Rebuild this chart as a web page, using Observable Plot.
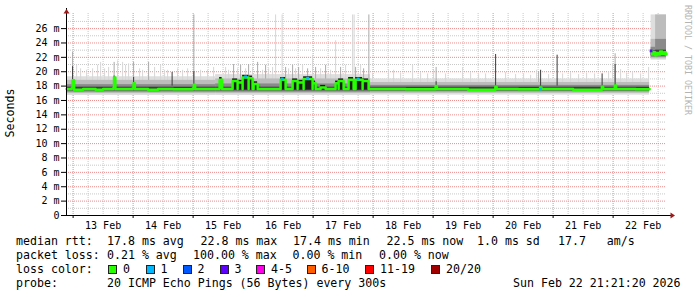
<!DOCTYPE html>
<html>
<head>
<meta charset="utf-8">
<script src="https://cdn.jsdelivr.net/npm/d3@7"></script>
<script src="https://cdn.jsdelivr.net/npm/@observablehq/plot@0.6"></script>
<style>
  body { margin: 0; background: #fff; }
  #wrap { position: relative; width: 697px; height: 297px; overflow: hidden; background: #fff;
          font-family: "DejaVu Sans Mono", monospace; color: #000; }
  #wrap svg { position: absolute; left: 0; top: 0; }
  .t { position: absolute; white-space: pre; font-size: 11.6px; line-height: 14px; }
  .sw { position: absolute; width: 7px; height: 7px; border: 1px solid #222; }
</style>
</head>
<body>
<div id="wrap"></div>
<script>
// ---------------- DATA ----------------
const endStamp = "2026-02-22T21:21:20Z";
const dayLabels = ["13 Feb","14 Feb","15 Feb","16 Feb","17 Feb","18 Feb","19 Feb","20 Feb","21 Feb","22 Feb"];
const yTickValues = [0,2,4,6,8,10,12,14,16,18,20,22,24,26];
const yTickLabels = ["0","2 m","4 m","6 m","8 m","10 m","12 m","14 m","16 m","18 m","20 m","22 m","24 m","26 m"];

// smoke band segments (hours since 13 Feb 00:00 UTC; values in ms)
const bandStart   = [-2.64, 57,    119,   231.2, 233];
const bandEnd     = [57,    119,   230.6, 233,   237.36];
const bandOuterLo = [16.7,  16.7,  16.75, 21.6,  21.6];
const bandOuterHi = [19.3,  19.6,  19.0,  27.9,  27.9];
const bandMidLo   = [16.95, 16.95, 17.0,  21.8,  21.8];
const bandMidHi   = [18.8,  19.0,  18.5,  24.5,  27.9];
const bandInnerLo = [17.15, 17.15, 17.2,  22.0,  22.0];
const bandInnerHi = [18.2,  18.3,  18.1,  23.4,  24.5];
const bandCoreLo  = [17.35, 17.35, 17.35, 22.2,  22.2];
const bandCoreHi  = [17.85, 17.85, 17.85, 22.9,  23.0];

// smoke spikes: [hour, top ms, shade 0 light / 1 medium / 2 dark]
const spikes = [
 [-0.2,22.7,1],[-0.2,20.7,2],[1.4,20.9,0],[3.0,20.4,0],[5.4,20.2,0],[7.8,20.4,0],[9.8,20.9,0],[11.0,21.3,0],
 [12.6,20.4,0],[14.2,20.6,0],[16.4,21.3,1],[16.4,19.4,2],[17.8,21.5,0],[19.8,21.3,0],[21.0,20.9,0],[22.2,21.1,0],
 [24.2,21.3,1],[24.2,19.2,2],[26.6,20.4,0],[27.8,20.2,0],[30.2,21.3,1],[32.6,20.6,0],[35.0,20.9,0],[36.6,20.2,0],
 [37.8,20.2,0],[39.6,19.9,2],[41.8,20.4,0],[43.8,20.2,0],[45.8,20.4,0],[48.3,27.9,1],[48.3,20.0,2],[51.0,20.2,0],
 [53.8,20.2,0],[56.2,20.6,0],
 [61.0,20.6,0],[62.2,20.2,0],[64.2,21.0,1],[65.8,20.4,0],[67.0,20.9,1],[69.0,20.4,0],[70.2,21.0,1],[71.8,20.6,0],
 [73.8,21.3,1],[75.8,20.2,0],[77.0,20.9,1],[78.2,20.4,0],[79.8,20.6,0],[81.0,27.9,0],[83.6,27.9,0],[85.0,20.6,1],
 [86.2,20.4,0],[87.8,20.9,1],[89.0,20.4,0],[90.2,20.6,1],[91.8,20.9,0],[93.8,20.4,1],[95.8,22.3,0],[97.0,20.6,1],
 [99.0,20.4,0],[101.0,20.9,1],[103.0,20.2,0],[105.0,24.3,0],[107.0,20.6,1],[109.0,20.9,0],[111.8,27.9,0],[112.4,27.9,0],
 [113.0,20.6,1],[115.0,20.9,0],[116.2,20.4,1],[118.3,27.9,1],[119.8,19.7,0],
 [126.2,20.2,0],[128.2,20.2,0],[131.0,19.8,0],[135.8,20.9,0],[139.0,19.9,0],[141.8,19.7,0],[144.2,20.2,0],[145.2,20.6,1],
 [145.2,18.6,2],[149.0,19.7,0],[155.8,20.6,0],[159.0,19.9,0],[162.2,19.6,0],[165.0,19.7,0],[169.0,22.4,2],[173.0,19.9,0],
 [177.0,19.6,0],[180.2,19.7,0],[183.0,19.5,0],[185.4,20.2,0],[186.2,20.0,1],[187.0,20.2,2],[190.2,19.6,0],[193.6,22.3,2],
 [195.8,19.7,0],[199.0,19.9,0],[202.2,19.6,0],[205.4,19.8,0],[208.6,19.7,0],[211.6,19.7,2],[214.2,20.0,0],[215.8,21.0,0],
 [216.8,22.5,1],[216.8,21.0,2],[219.0,20.3,0],[221.4,19.8,0],[223.8,20.0,0],[227.0,19.7,0],[230.2,20.6,0]
];

// dense (dark) smoke bursts: [start hour, end hour, top ms]
const bursts = [
 [58.6,59.6,19.2],[63.8,65.8,19.0],[65.8,67.8,18.8],[67.8,70.2,19.5],[70.2,71.8,19.4],[72.2,73.8,18.6],
 [83.0,85.0,19.2],[87.8,89.8,19.0],[89.8,92.2,18.8],[92.2,95.8,19.3],[95.8,97.0,18.7],[99.0,101.0,18.1],
 [105.0,106.2,18.7],[106.2,108.2,19.0],[110.2,112.2,19.2],[113.0,115.8,19.2],[115.8,118.2,19.0]
];

// median rtt breakpoints: [hour, ms]
const medianMain = [
 [-2.64,17.6],[-0.6,17.7],[-0.2,18.8],[0.4,17.5],[4,17.6],[9,17.5],[12,17.6],[16.0,17.7],[16.36,19.2],[16.9,17.6],
 [23.8,17.7],[24.16,18.4],[24.7,17.6],[30,17.5],[34,17.6],[40,17.55],[47.9,17.7],[48.28,18.2],[48.8,17.6],[56,17.6],
 [119,17.6],[133,17.55],[145.0,18.0],[145.5,17.6],[158,17.5],[168.9,17.9],[169.4,17.6],[178,17.55],[186.8,17.8],
 [187.3,17.6],[200,17.5],[211.5,17.9],[212,17.6],[216.7,18.1],[217.2,17.6],[225,17.55],[230.6,17.6]
];
const medianFinal = [
 [231.2,22.9],[231.6,22.4],[232.2,22.7],[232.8,22.3],[233.4,22.6],[234.0,22.4],[234.8,22.8],[235.6,22.5],
 [236.4,22.7],[237.0,22.4],[237.36,22.5]
];
// median points with packet loss: [hour, ms, loss class index]
const lossPoints = [[69.0,19.3,1],[83.6,19.0,1],[93.8,19.1,1],[114.0,19.0,1],[187.0,17.6,1],[231.2,22.9,3]];

const lossLabels = ["0","1","2","3","4-5","6-10","11-19","20/20"];
const lossColors = ["#26ff00","#00b8ff","#0059ff","#5e00ff","#ff00ea","#ff5e00","#ff0000","#a10000"];
const rttStats  = ["17.8 ms avg","22.8 ms max","17.4 ms min","22.5 ms now","1.0 ms sd","17.7   am/s"];
const lossStats = ["0.21 % avg","100.00 % max","0.00 % min","0.00 % now"];
const probeText = "20 ICMP Echo Pings (56 Bytes) every 300s";
const dateText  = "Sun Feb 22 21:21:20 2026";

// ---------------- BUILD ----------------
const HOUR = 3600e3;
const origin = Date.UTC(2026, 1, 13);
const T = h => new Date(origin + h * HOUR);
const endTime = new Date(endStamp);
const startTime = new Date(+endTime - 240 * HOUR);

const bands = bandStart.map((h1, i) => ({
  x1: T(h1), x2: T(bandEnd[i]),
  oLo: bandOuterLo[i], oHi: bandOuterHi[i], mLo: bandMidLo[i], mHi: bandMidHi[i],
  iLo: bandInnerLo[i], iHi: bandInnerHi[i], cLo: bandCoreLo[i], cHi: bandCoreHi[i]
}));
const shadeColors = ["#d6d6d6", "#a9a9a9", "#3a3a3a"];
const spikeRows = spikes.map(([h, top, s]) => ({x: T(h), top, stroke: shadeColors[s], s}));
const burstRows = bursts.map(([h1, h2, top]) => ({x1: T(h1), x2: T(h2), top}));

const mainPts = medianMain.map(([h, v]) => ({h, v, seg: "a"}));
bursts.forEach(([h1, h2, top]) => {
  mainPts.push({h: h1, v: +(top - 0.3).toFixed(2), seg: "a"});
  mainPts.push({h: h2, v: 17.6, seg: "a"});
});
const medianRows = d3.sort(mainPts, d => d.h)
  .concat(medianFinal.map(([h, v]) => ({h, v, seg: "b"})))
  .map(d => ({...d, x: T(d.h)}));
const lossRows = lossPoints.map(([h, v, c]) => ({x: T(h), v, fill: lossColors[c]}));

const midnights = d3.utcDay.range(startTime, endTime);
const noons = midnights.map(d => new Date(+d + 12 * HOUR));
const sixHours = d3.utcHour.every(6).range(startTime, endTime).filter(d => d.getUTCHours() !== 0);
const minorY = d3.range(1, 28, 2);
const majorY = yTickValues.filter(v => v > 0);

const arrowUp = {draw(ctx) { ctx.moveTo(0, -2.5); ctx.lineTo(3, 2); ctx.lineTo(-3, 2); ctx.closePath(); }};
const arrowRight = {draw(ctx) { ctx.moveTo(2.5, 0); ctx.lineTo(-2, -3); ctx.lineTo(-2, 3); ctx.closePath(); }};

const chart = Plot.plot({
  width: 697, height: 232,
  marginLeft: 66, marginRight: 31, marginTop: 13, marginBottom: 17,
  style: {fontFamily: "DejaVu Sans Mono", fontSize: "10px", background: "transparent", color: "#000", overflow: "visible"},
  x: {type: "utc", domain: [startTime, endTime], axis: null},
  y: {domain: [0, 28.1], axis: null},
  color: {type: "identity"},
  marks: [
    Plot.ruleX(sixHours, {stroke: "#c8c8c8", strokeDasharray: "1,1"}),
    Plot.ruleY(minorY, {stroke: "#c8c8c8", strokeDasharray: "1,1"}),
    Plot.ruleX(midnights, {stroke: "#ee8c8c", strokeDasharray: "1,1"}),
    Plot.ruleY(majorY, {stroke: "#ee8c8c", strokeDasharray: "1,1"}),

    Plot.rect(bands, {x1: "x1", x2: "x2", y1: "oLo", y2: "oHi", fill: "#dedede"}),
    Plot.ruleX(spikeRows.filter(d => d.s < 2), {x: "x", y1: d => 18, y2: "top", stroke: "stroke"}),
    Plot.rect(bands, {x1: "x1", x2: "x2", y1: "mLo", y2: "mHi", fill: "#bcbcbc"}),
    Plot.rect(bands, {x1: "x1", x2: "x2", y1: "iLo", y2: "iHi", fill: "#8a8a8a"}),
    Plot.rect(bands, {x1: "x1", x2: "x2", y1: "cLo", y2: "cHi", fill: "#3c3c3c"}),
    Plot.ruleX(spikeRows.filter(d => d.s === 2), {x: "x", y1: d => 18, y2: "top", stroke: "stroke"}),
    Plot.rect(burstRows, {x1: "x1", x2: "x2", y1: d => 17.5, y2: "top", fill: "#1c1c1c"}),
    Plot.line(medianRows, {x: "x", y: "v", z: "seg", curve: "step-after", stroke: "#26ff00", strokeWidth: 2.5}),
    Plot.dot(lossRows, {x: "x", y: "v", fill: "fill", symbol: "square", r: 1.6}),

    Plot.ruleX([startTime], {stroke: "#000", insetTop: -5}),
    Plot.ruleY([0], {stroke: "#000", insetRight: -5}),
    Plot.dot([0], {x: () => startTime, frameAnchor: "top", dy: -2, symbol: arrowUp, fill: "#9b1c1c"}),
    Plot.dot([0], {y: d => d, frameAnchor: "right", dx: 6, symbol: arrowRight, fill: "#9b1c1c"}),

    Plot.axisY(yTickValues, {tickSize: 5, tickPadding: 2, label: null,
      tickFormat: d => yTickLabels[yTickValues.indexOf(d)]}),
    Plot.axisX(midnights, {tickSize: 3, tickPadding: 0, label: null, tickFormat: () => ""}),
    Plot.axisX(noons, {tickSize: 0, tickPadding: 6, label: null,
      tickFormat: d => dayLabels[Math.round((d - noons[0]) / (24 * HOUR))]})
  ]
});

const wrap = document.getElementById("wrap");
wrap.appendChild(chart);

function addText(txt, left, top, extra) {
  const el = document.createElement("div");
  el.className = "t";
  el.textContent = txt;
  el.style.left = left + "px";
  el.style.top = top + "px";
  if (extra) Object.assign(el.style, extra);
  wrap.appendChild(el);
  return el;
}

// y axis unit label and watermark
addText("Seconds", 10, 113, {transform: "translate(-50%,-50%) rotate(-90deg)"});
addText("RRDTOOL / TOBI OETIKER", 684, 5, {writingMode: "vertical-rl", fontSize: "8.3px", lineHeight: "8px", color: "#b4b4b4"});

// legend block
const rowTop = [234, 248, 262, 276];
addText("median rtt:", 16, rowTop[0]);
const rttX = [107, 200.5, 293, 386.5, 477, 558];
rttStats.forEach((s, i) => addText(s, rttX[i], rowTop[0]));
addText("packet loss:", 16, rowTop[1]);
const lossX = [107, 193, 292.5, 379];
lossStats.forEach((s, i) => addText(s, lossX[i], rowTop[1]));
addText("loss color:", 16, rowTop[2]);
const swatchX = [108, 145.5, 182.5, 219.5, 256, 306.5, 365, 431];
lossLabels.forEach((lab, i) => {
  const sw = document.createElement("div");
  sw.className = "sw";
  sw.style.left = swatchX[i] + "px";
  sw.style.top = "265px";
  sw.style.background = lossColors[i];
  wrap.appendChild(sw);
  addText(lab, swatchX[i] + 15, rowTop[2]);
});
addText("probe:", 16, rowTop[3]);
addText(probeText, 107, rowTop[3]);
addText(dateText, 513, rowTop[3]);
</script>
</body>
</html>
